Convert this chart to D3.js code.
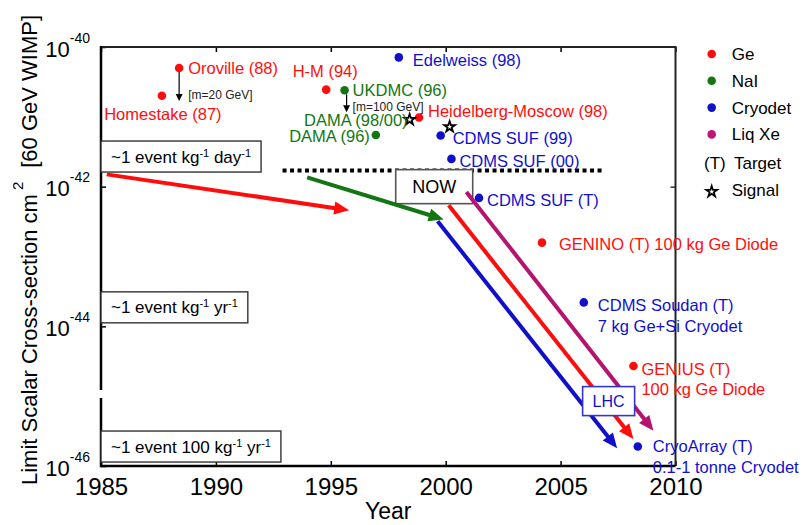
<!DOCTYPE html>
<html>
<head>
<meta charset="utf-8">
<script src="https://cdn.jsdelivr.net/npm/d3@7"></script>
<style>
  body { margin: 0; background: #fff; }
  svg { font-family: "Liberation Sans", Arial, sans-serif; }
</style>
</head>
<body>
<svg id="chart" width="806" height="525"></svg>
<script>
// experiments (dots): name, detector material, year, cross-section limit (cm^2)
var names = ['Homestake (87)', 'Oroville (88)', 'H-M (94)', 'Heidelberg-Moscow (98)', 'GENINO (T) 100 kg Ge Diode', 'GENIUS (T)',
  'UKDMC (96)', 'DAMA (96)',
  'Edelweiss (98)', 'CDMS SUF (99)', 'CDMS SUF (00)', 'CDMS SUF (T)', 'CDMS Soudan (T)', 'CryoArray (T)'];
var secondLines = ['', '', '', '', '', '100 kg Ge Diode', '', '', '', '', '', '', '7 kg Ge+Si Cryodet', '0.1-1 tonne Cryodet'];
var materials = ['Ge', 'Ge', 'Ge', 'Ge', 'Ge', 'Ge', 'NaI', 'NaI',
  'Cryodet', 'Cryodet', 'Cryodet', 'Cryodet', 'Cryodet', 'Cryodet'];
var years = [1987.65, 1988.4, 1994.8, 1998.84, 2004.19, 2008.17, 1995.6, 1996.96,
  1997.96, 1999.78, 2000.25, 2001.45, 2006.01, 2008.36];
var limits = [2.0e-41, 5.0e-41, 2.45e-41, 9.8e-42, 1.58e-43, 2.7e-45, 2.4e-41, 5.5e-42,
  7.1e-41, 5.4e-42, 2.5e-42, 6.9e-43, 2.2e-44, 1.9e-46];

// claimed signals (stars)
var signalNames = ['DAMA (98/00)', ''];
var signalYears = [1998.43, 2000.17];
var signalLimits = [9.1e-42, 7.2e-42];

// WIMP mass notes hanging below some points
var massNotes = ['[m=20 GeV]', '[m=100 GeV]'];
var massNoteOf = ['Oroville (88)', 'UKDMC (96)'];

// sensitivity trends (arrows)
var trendMaterials = ['Ge', 'NaI', 'Cryodet', 'Ge', 'Liq Xe'];
var trendFromYears = [1985.25, 1993.97, 1999.65, 2000.13, 2000.9];
var trendFromLimits = [1.5e-42, 1.36e-42, 3.2e-43, 5.4e-43, 8.4e-43];
var trendToYears = [1995.8, 1999.91, 2007.46, 2008.17, 2009.04];
var trendToLimits = [4.6e-43, 3.4e-43, 1.8e-46, 2.43e-46, 3.2e-46];

// present sensitivity line and markers
var nowYears = [1992.9, 2006.9];
var nowLimit = 1.7e-42;
var nowBox = [1999.5, 1e-42];
var lhcBox = [2007.09, 8.5e-46];

// event rate levels: [normal, sup, normal, sup, ...]
var eventLabels = [['~1 event kg', '-1', ' day', '-1'], ['~1 event kg', '-1', ' yr', '-1'], ['~1 event 100 kg', '-1', ' yr', '-1']];
var eventLimits = [2.7e-42, 1.87e-44, 1.9e-46];

var yearTicks = [1985, 1990, 1995, 2000, 2005, 2010];
var decadeTicks = [-40, -42, -44, -46];

var legendMaterials = ['Ge', 'NaI', 'Cryodet', 'Liq Xe'];

var colors = {Ge: '#ff0d0d', NaI: '#137613', Cryodet: '#1010cc', 'Liq Xe': '#c4127a'};

var plot = {left: 101, right: 675.5, top: 47, bottom: 466};
var labelSize = 16.5;

// label offsets from each dot: [dx, dy, anchor]
var labelPos = {
  'Homestake (87)': [1, 18, 'middle'],
  'Oroville (88)': [9, 0, 'start'],
  'H-M (94)': [-1, -18, 'middle'],
  'Heidelberg-Moscow (98)': [9, -6, 'start'],
  'GENINO (T) 100 kg Ge Diode': [17, 2, 'start'],
  'GENIUS (T)': [8, 3, 'start'],
  'UKDMC (96)': [8, 0, 'start'],
  'DAMA (96)': [-6, 1.5, 'end'],
  'Edelweiss (98)': [14, 3, 'start'],
  'CDMS SUF (99)': [12, 3, 'start'],
  'CDMS SUF (00)': [8, 2, 'start'],
  'CDMS SUF (T)': [8, 2, 'start'],
  'CDMS Soudan (T)': [14, 3, 'start'],
  'CryoArray (T)': [15, 0, 'start'],
  'DAMA (98/00)': [-2, 1, 'end']
};

var svg = d3.select('#chart');
var x = d3.scaleLinear().domain([1985, 2010]).range([plot.left, plot.right]);
var y = d3.scaleLog().domain([1e-46, 1e-40]).range([plot.bottom, plot.top]);

function arrow(g, x1, y1, x2, y2, color, w, headLen, headHalf) {
  var a = Math.atan2(y2 - y1, x2 - x1);
  var c = Math.cos(a), s = Math.sin(a);
  var bx = x2 - headLen * c, by = y2 - headLen * s;
  g.append('line')
    .attr('x1', x1).attr('y1', y1)
    .attr('x2', bx + c).attr('y2', by + s)
    .attr('stroke', color).attr('stroke-width', w);
  g.append('path')
    .attr('d', 'M' + [x2, y2] + 'L' + [bx - headHalf * s, by + headHalf * c] + 'L' + [bx + headHalf * s, by - headHalf * c] + 'Z')
    .attr('fill', color);
}

// superscript parts into tspans
function supText(text, parts, supSize, rise) {
  parts.forEach(function(p, i) {
    var t = text.append('tspan').text(p);
    if (i % 2) t.attr('font-size', supSize).attr('dy', -rise);
    else if (i) t.attr('dy', rise);
  });
}

function renderAxes() {
  var g = svg.append('g');

  g.append('g')
    .attr('transform', 'translate(0,' + plot.bottom + ')')
    .call(d3.axisBottom(x).tickValues(yearTicks).tickSize(-5).tickPadding(12).tickFormat(d3.format('d')))
    .call(a => a.select('.domain').remove())
    .call(a => a.selectAll('text').attr('font-size', 24).attr('font-family', null))
    .call(a => a.selectAll('line').attr('stroke-width', 1.5));

  g.append('g')
    .attr('transform', 'translate(0,' + plot.top + ')')
    .call(d3.axisTop(x).tickValues(yearTicks).tickSize(-5).tickFormat(''))
    .call(a => a.select('.domain').remove())
    .call(a => a.selectAll('line').attr('stroke-width', 1.5));

  var left = g.append('g')
    .attr('transform', 'translate(' + plot.left + ',0)')
    .call(d3.axisLeft(y).tickValues(decadeTicks.map(d => Math.pow(10, d))).tickSize(-5).tickFormat(''))
    .call(a => a.select('.domain').remove())
    .call(a => a.selectAll('line').attr('stroke-width', 1.5));

  left.selectAll('.tick').each(function(d) {
    var t = d3.select(this).append('text')
      .attr('x', -11).attr('y', 9)
      .attr('text-anchor', 'end')
      .attr('fill', '#000')
      .attr('font-size', 22);
    supText(t, ['10', String(Math.round(Math.log10(d)))], 14, 14);
  });

  g.append('g')
    .attr('transform', 'translate(' + plot.right + ',0)')
    .call(d3.axisRight(y).tickValues([1e-42]).tickSize(-5).tickFormat(''))
    .call(a => a.select('.domain').remove())
    .call(a => a.selectAll('line').attr('stroke', '#333').attr('stroke-width', 1.5));

  // frame: top and right thinner, left axis has a small break
  g.append('path')
    .attr('d', 'M' + [plot.left, plot.top] + 'H' + plot.right + 'V' + plot.bottom)
    .attr('fill', 'none').attr('stroke', '#222').attr('stroke-width', 2);
  g.append('path')
    .attr('d', 'M' + [plot.left, plot.top - 1] + 'V390M' + [plot.left, 398] + 'V' + plot.bottom + 'H' + plot.right)
    .attr('fill', 'none').attr('stroke', '#000').attr('stroke-width', 2.5);

  g.append('text')
    .attr('x', (plot.left + plot.right) / 2).attr('y', 519)
    .attr('text-anchor', 'middle').attr('font-size', 23)
    .text('Year');

  var yl = g.append('text')
    .attr('transform', 'translate(37,250)rotate(-90)')
    .attr('text-anchor', 'middle').attr('font-size', 22);
  yl.append('tspan').text('Limit Scalar Cross-section cm');
  yl.append('tspan').attr('dx', 4).attr('dy', -14).attr('font-size', 15).text('2');
  yl.append('tspan').attr('dx', 14).attr('dy', 14).text('[60 GeV WIMP]');
}

function renderBox(g, cx, cy, w, h, label, size, color, stroke) {
  g.append('rect')
    .attr('x', cx - w / 2).attr('y', cy - h / 2).attr('width', w).attr('height', h)
    .attr('fill', '#fff').attr('stroke', stroke).attr('stroke-width', 1.6);
  g.append('text')
    .attr('x', cx).attr('y', cy).attr('dy', '.35em')
    .attr('text-anchor', 'middle').attr('font-size', size).attr('fill', color)
    .text(label);
}

function renderAnnotations() {
  var g = svg.append('g');

  // event rate boxes
  eventLabels.forEach(function(parts, i) {
    var cy = y(eventLimits[i]);
    var box = g.append('rect')
      .attr('x', plot.left).attr('y', cy - 15.5).attr('height', 31)
      .attr('fill', '#fff').attr('stroke', '#333').attr('stroke-width', 1.4);
    var t = g.append('text')
      .attr('x', plot.left + 10).attr('y', cy + 6)
      .attr('font-size', 17);
    supText(t, parts, 11, 6);
    box.attr('width', t.node().getBBox().width + 20);
  });

  // present sensitivity
  g.append('line')
    .attr('x1', x(nowYears[0])).attr('x2', x(nowYears[1]))
    .attr('y1', y(nowLimit)).attr('y2', y(nowLimit))
    .attr('stroke', '#000').attr('stroke-width', 4).attr('stroke-dasharray', '4,3.5');

  renderBox(g, x(nowBox[0]), y(nowBox[1]), 77, 34, 'NOW', 18, '#000', '#555');

  trendMaterials.forEach(function(m, i) {
    arrow(g, x(trendFromYears[i]), y(trendFromLimits[i]), x(trendToYears[i]), y(trendToLimits[i]),
      m === 'Liq Xe' ? '#b5136f' : colors[m], 4, 15, 6.5);
  });

  renderBox(g, x(lhcBox[0]), y(lhcBox[1]), 52, 29, 'LHC', 16, '#1010cc', '#3535cc');

  // mass notes
  massNotes.forEach(function(note, i) {
    var k = names.indexOf(massNoteOf[i]);
    var px = x(years[k]) + (i ? 2 : 0), py = y(limits[k]);
    arrow(g, px, py + 4, px, py + (i ? 22 : 33), '#000', 1.2, 7, 3.5);
    g.append('text')
      .attr('x', px + (i ? 6 : 9)).attr('y', py + (i ? 17 : 27)).attr('dy', '.35em')
      .attr('font-size', 12).attr('fill', '#222')
      .text(note);
  });
}

function renderLabel(g, px, py, name, second, color) {
  var p = labelPos[name] || [8, 0, 'start'];
  var t = g.append('text')
    .attr('x', px + p[0]).attr('y', py + p[1]).attr('dy', '.35em')
    .attr('text-anchor', p[2]).attr('font-size', labelSize).attr('fill', color)
    .text(name);
  if (second) {
    g.append('text')
      .attr('x', px + p[0]).attr('y', py + p[1] + 20.5).attr('dy', '.35em')
      .attr('text-anchor', p[2]).attr('font-size', labelSize).attr('fill', color)
      .text(second);
  }
}

function renderPoints() {
  var g = svg.append('g');
  var star = d3.symbol().type(d3.symbolStar).size(36);

  g.selectAll('.dot')
    .data(names).enter().append('circle')
    .classed('dot', true)
    .attr('cx', (d, i) => x(years[i]))
    .attr('cy', (d, i) => y(limits[i]))
    .attr('r', 4.3)
    .attr('fill', (d, i) => colors[materials[i]]);

  g.selectAll('.star')
    .data(signalNames).enter().append('path')
    .classed('star', true)
    .attr('transform', (d, i) => 'translate(' + [x(signalYears[i]), y(signalLimits[i])] + ')')
    .attr('d', star)
    .attr('fill', '#fff').attr('stroke', '#000').attr('stroke-width', 1.8);

  names.forEach(function(n, i) {
    renderLabel(g, x(years[i]), y(limits[i]), n, secondLines[i], colors[materials[i]]);
  });
  signalNames.forEach(function(n, i) {
    if (n) renderLabel(g, x(signalYears[i]), y(signalLimits[i]), n, '', colors.NaI);
  });
}

function renderLegend() {
  var g = svg.append('g').attr('font-size', 17);
  legendMaterials.forEach(function(m, i) {
    var cy = 54 + i * 26.8;
    g.append('circle').attr('cx', 711.7).attr('cy', cy).attr('r', 4.3).attr('fill', colors[m]);
    g.append('text').attr('x', 731.7).attr('y', cy).attr('dy', '.35em').text(m);
  });
  g.append('text').attr('x', 704).attr('y', 162.7).attr('dy', '.35em').text('(T)');
  g.append('text').attr('x', 734).attr('y', 162.7).attr('dy', '.35em').text('Target');
  g.append('path')
    .attr('transform', 'translate(711.7,191.7)')
    .attr('d', d3.symbol().type(d3.symbolStar).size(36))
    .attr('fill', '#fff').attr('stroke', '#000').attr('stroke-width', 1.8);
  g.append('text').attr('x', 731.7).attr('y', 190).attr('dy', '.35em').text('Signal');
}

renderAxes();
renderAnnotations();
renderPoints();
renderLegend();
</script>
</body>
</html>
